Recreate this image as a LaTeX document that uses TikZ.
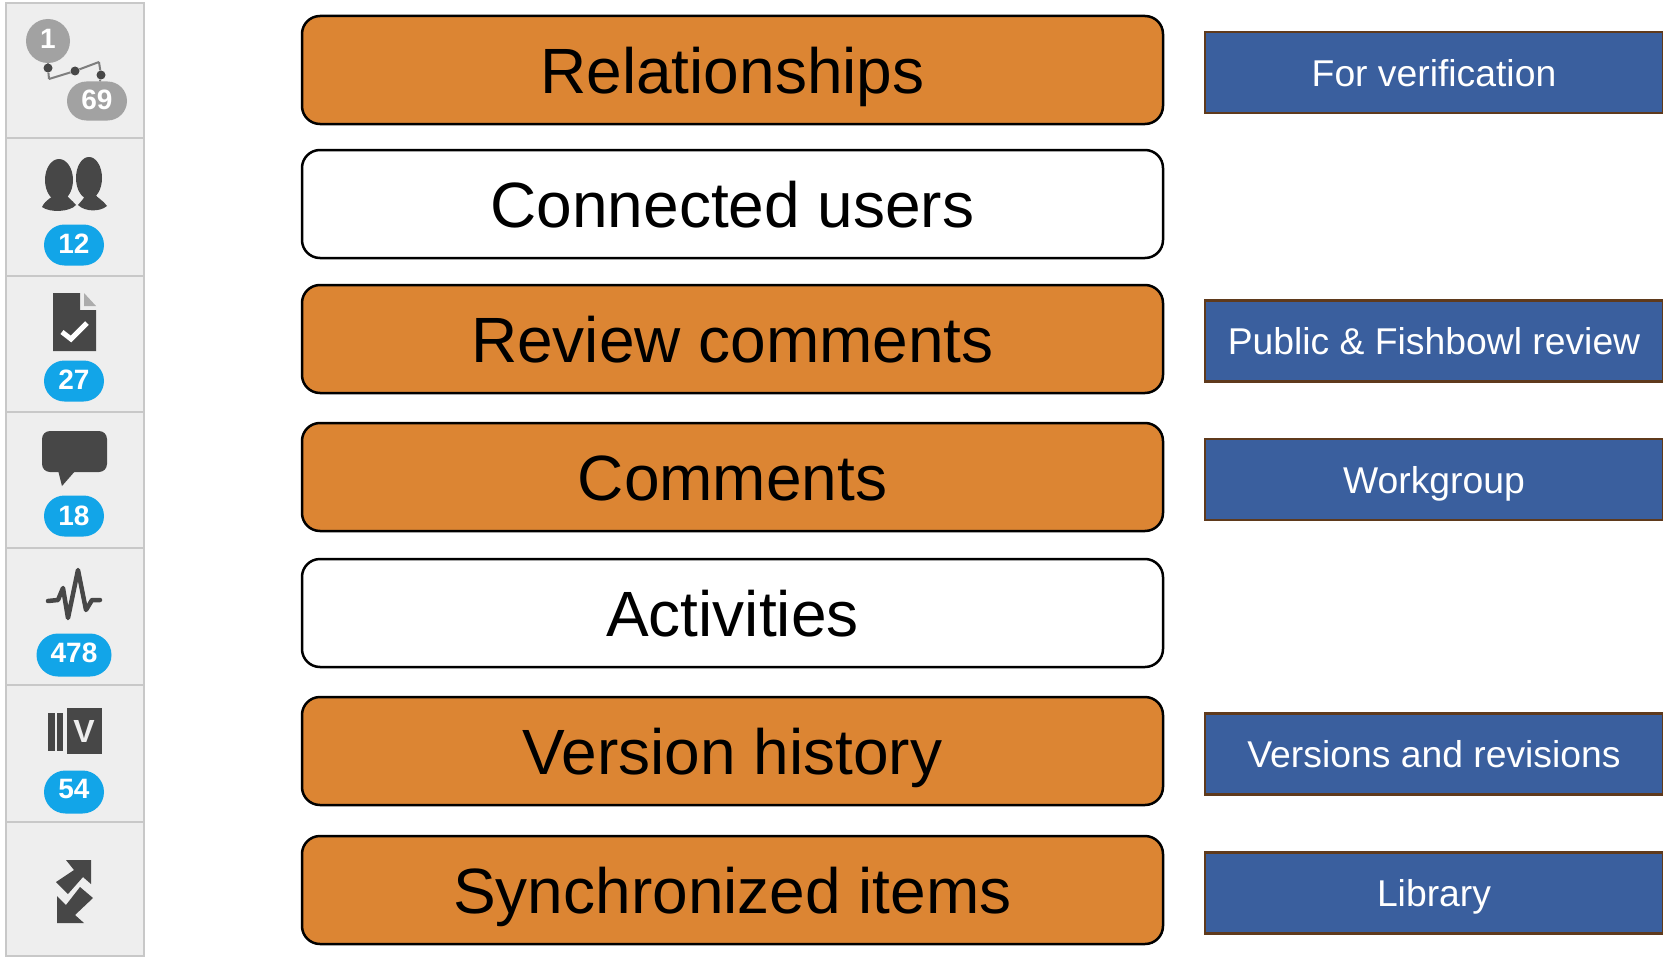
\documentclass[tikz,border=0pt]{standalone}
\usepackage{fontspec}
\setmainfont{Liberation Sans}
\definecolor{orangefill}{HTML}{DC8533}
\definecolor{tagfill}{HTML}{3A5F9E}
\definecolor{tagline}{HTML}{5F3A1C}
\definecolor{panelfill}{HTML}{EEEEEE}
\definecolor{panelline}{HTML}{C8C8C8}
\definecolor{badgeblue}{HTML}{12A5E8}
\definecolor{badgegrey}{HTML}{A2A2A2}
\definecolor{icondark}{HTML}{474747}
\usetikzlibrary{shapes.misc}
\tikzset{
  plainbox/.style={draw=black,line width=2.5pt,fill=white,rounded corners=18pt,
    minimum width=861pt,minimum height=108pt,inner sep=0pt,
    font=\fontsize{64}{64}\selectfont,text height=46pt,text depth=0pt},
  orangebox/.style={plainbox,fill=orangefill},
  tagbox/.style={draw=tagline,line width=2.5pt,fill=tagfill,text=white,
    minimum width=458pt,minimum height=81pt,inner sep=0pt,
    font=\fontsize{37.3}{37.3}\selectfont,text height=27pt,text depth=0pt},
  countbadge/.style={rounded rectangle,fill=badgeblue,text=white,inner sep=0pt,
    minimum width=60pt,minimum height=41pt,
    font=\bfseries\fontsize{28}{28}\selectfont,text height=20pt,text depth=4pt},
  greybadge/.style={countbadge,fill=badgegrey},
  icon/.style={fill=icondark,draw=none},
  dot/.style={circle,fill=icondark,inner sep=0pt,minimum size=9pt}
}
\begin{document}
\begin{tikzpicture}[x=1pt,y=-1pt]
  \useasboundingbox (0,0) rectangle (1663,958);
  % side panel
  \draw[panelline,line width=2pt,fill=panelfill] (6,3) rectangle (144,956);
  \begin{scope}[panelline,line width=2pt]
    \draw (6,138) -- (144,138);
    \draw (6,276) -- (144,276);
    \draw (6,412) -- (144,412);
    \draw (6,548) -- (144,548);
    \draw (6,685) -- (144,685);
    \draw (6,822) -- (144,822);
  \end{scope}
  % relationships icon
  \coordinate (bend1) at (49,79);
  \coordinate (bend2) at (99,62);
  \draw
    (48,68) node[dot] (dot1){}
    (75,71) node[dot] (dot2){}
    (101,75) node[dot] (dot3){};
  \draw (48,41) node[greybadge,circle,minimum width=44pt,minimum height=44pt] (first){1};
  \draw (97,101) node[greybadge,minimum height=39pt] (total){69};
  \begin{scope}[icondark!70,line width=2pt]
    \draw (first) -- (dot1);
    \draw (dot1) -- (bend1);
    \draw (bend1) -- (dot2);
    \draw (dot2) -- (bend2);
    \draw (bend2) -- (dot3);
    \draw (dot3) -- (total);
  \end{scope}
  % users icon
  \fill[icon] (59,180) ellipse (14 and 21);
  \fill[icon] (89,178) ellipse (13 and 21);
  \fill[icon] (42,207) .. controls (46,199) and (52,198) .. (55,194) -- (66,194)
    .. controls (68,198) and (72,200) .. (76,205) .. controls (70,212) and (50,213) .. cycle;
  \fill[icon] (78,205) .. controls (82,200) and (85,198) .. (85,194) -- (95,194)
    .. controls (97,198) and (103,200) .. (107,206) .. controls (100,212) and (85,212) .. cycle;
  % document icon
  \fill[icon] (53,293) -- (80,293) -- (80,310) -- (96,310) -- (96,351) -- (53,351) -- cycle;
  \fill[icondark!45] (84,293) -- (96,306) -- (84,306) -- cycle;
  \draw[white,line width=5pt] (62,332) -- (71,339) -- (87,323);
  % comment icon
  \fill[icon,rounded corners=8pt] (42,431) rectangle (107,472);
  \fill[icon] (58,470) -- (62,486) -- (76,470) -- cycle;
  % activity icon
  \draw[icondark,line width=4.5pt,line cap=round,line join=round]
    (48,601) -- (58,600) -- (63,588) -- (68,618) -- (78,570) -- (86,610) -- (92,600) -- (100,600);
  % version icon
  \fill[icon] (48,713) rectangle (55,751);
  \fill[icon] (57,713) rectangle (63,751);
  \fill[icon] (67,708) rectangle (102,754);
  \draw (84,731) node[text=panelfill,inner sep=0pt,font=\bfseries\fontsize{32}{32}\selectfont] (versionmark){V};
  % synchronize icon
  \fill[icon] (66,860) -- (91,860) -- (91,884) -- (83,877) -- (68,894) -- (56,882) -- (74,870) -- cycle;
  \fill[icon] (57,923) -- (57,896) -- (66,905) -- (80,887) -- (93,898) -- (75,915) -- (84,923) -- cycle;
  % counts
  \draw
    (74,245) node[countbadge] (users){12}
    (74,381) node[countbadge] (reviews){27}
    (74,516) node[countbadge,text depth=2pt] (notes){18}
    (74,655) node[countbadge,minimum width=75pt,minimum height=43pt,text depth=6pt] (events){478}
    (74,792) node[countbadge,minimum height=43pt,text depth=7pt] (versions){54};
  % main boxes
  \draw
    (732.5,70) node[orangebox] (relationships){Relationships}
    (732.5,204) node[plainbox] (connected){Connected users}
    (732.5,339) node[orangebox] (review){Review comments}
    (732.5,477) node[orangebox] (comments){Comments}
    (732.5,613) node[plainbox] (activities){Activities}
    (732.5,751) node[orangebox] (history){Version history}
    (732.5,890) node[orangebox] (synchronized){Synchronized items};
  % tags
  \draw
    (1434,72.5) node[tagbox] (verification){For verification}
    (1434,341) node[tagbox] (fishbowl){Public \& Fishbowl review}
    (1434,479.5) node[tagbox] (workgroup){Workgroup}
    (1434,754) node[tagbox] (revisions){Versions and revisions}
    (1434,893) node[tagbox] (library){Library};
\end{tikzpicture}
\end{document}
